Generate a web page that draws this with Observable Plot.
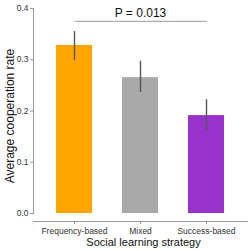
<!DOCTYPE html>
<html>
<head>
<meta charset="utf-8">
<script src="https://cdn.jsdelivr.net/npm/d3@7"></script>
<script src="https://cdn.jsdelivr.net/npm/@observablehq/plot@0.6"></script>
<style>
  body { margin: 0; background: #fff; }
  svg { font-family: "Liberation Sans", Arial, sans-serif; }
</style>
</head>
<body>
<div id="chart"></div>
<script>
// Average cooperation rate by social learning strategy, with error bars
const strategies = ["Frequency-based", "Mixed", "Success-based"];
const means = [0.328, 0.265, 0.191];
const lower = [0.299, 0.236, 0.162];
const upper = [0.355, 0.297, 0.222];
const barColors = ["#FFA500", "#A9A9A9", "#9932CC"];
const yTicks = [0, 0.1, 0.2, 0.3, 0.4];
const yTickLabels = ["0.0", "0.1", "0.2", "0.3", "0.4"];
const comparison = ["Frequency-based", "Success-based"];
const comparisonLevel = 0.375;
const pText = "P = 0.013";
const xTitle = "Social learning strategy";
const yTitle = "Average cooperation rate";

const rows = strategies.map((s, i) => ({strategy: s, mean: means[i], lo: lower[i], hi: upper[i]}));
const axisGray = "#9a9a9a";
const textGray = "#333";

const chart = Plot.plot({
  width: 251,
  height: 251,
  marginTop: 8,
  marginLeft: 33,
  marginRight: 4,
  marginBottom: 38,
  style: {fontFamily: "Liberation Sans, Arial, sans-serif", background: "#fff"},
  x: {domain: strategies, paddingInner: 0.4545, paddingOuter: 0.348, axis: null},
  y: {domain: [0, 0.4], axis: null},
  color: {domain: strategies, range: barColors},
  marks: [
    Plot.barY(rows, {x: "strategy", y: "mean", fill: "strategy"}),
    Plot.ruleX(rows, {x: "strategy", y1: "lo", y2: "hi", stroke: "#555", strokeWidth: 1.4}),
    Plot.link([comparison], {x1: d => d[0], x2: d => d[1], y1: comparisonLevel, y2: comparisonLevel, stroke: axisGray, strokeWidth: 1}),
    Plot.text([pText], {x: () => strategies[1], y: () => comparisonLevel, text: d => d, dy: -4, lineAnchor: "bottom", fontSize: 12, fill: "#111"}),
    Plot.frame({anchor: "left", stroke: axisGray}),
    Plot.axisY({ticks: yTicks, tickFormat: d => yTickLabels[yTicks.indexOf(d)], tickSize: 3, tickPadding: 2, fontSize: 8.5, stroke: axisGray, color: textGray, label: null}),
    Plot.frame({anchor: "bottom", dy: 8, stroke: axisGray}),
    Plot.axisX({tickSize: 3, tickPadding: 3, dy: 8, fontSize: 8.5, stroke: axisGray, color: textGray, label: null}),
    Plot.text([xTitle], {frameAnchor: "bottom", text: d => d, dx: 3, dy: 32, lineAnchor: "bottom", fontSize: 11, fill: "#111"}),
    Plot.text([yTitle], {frameAnchor: "left", text: d => d, rotate: -90, textAnchor: "middle", dx: -20, dy: 5, lineAnchor: "bottom", fontSize: 12, fill: "#111"})
  ]
});
document.getElementById("chart").appendChild(chart);
</script>
</body>
</html>
